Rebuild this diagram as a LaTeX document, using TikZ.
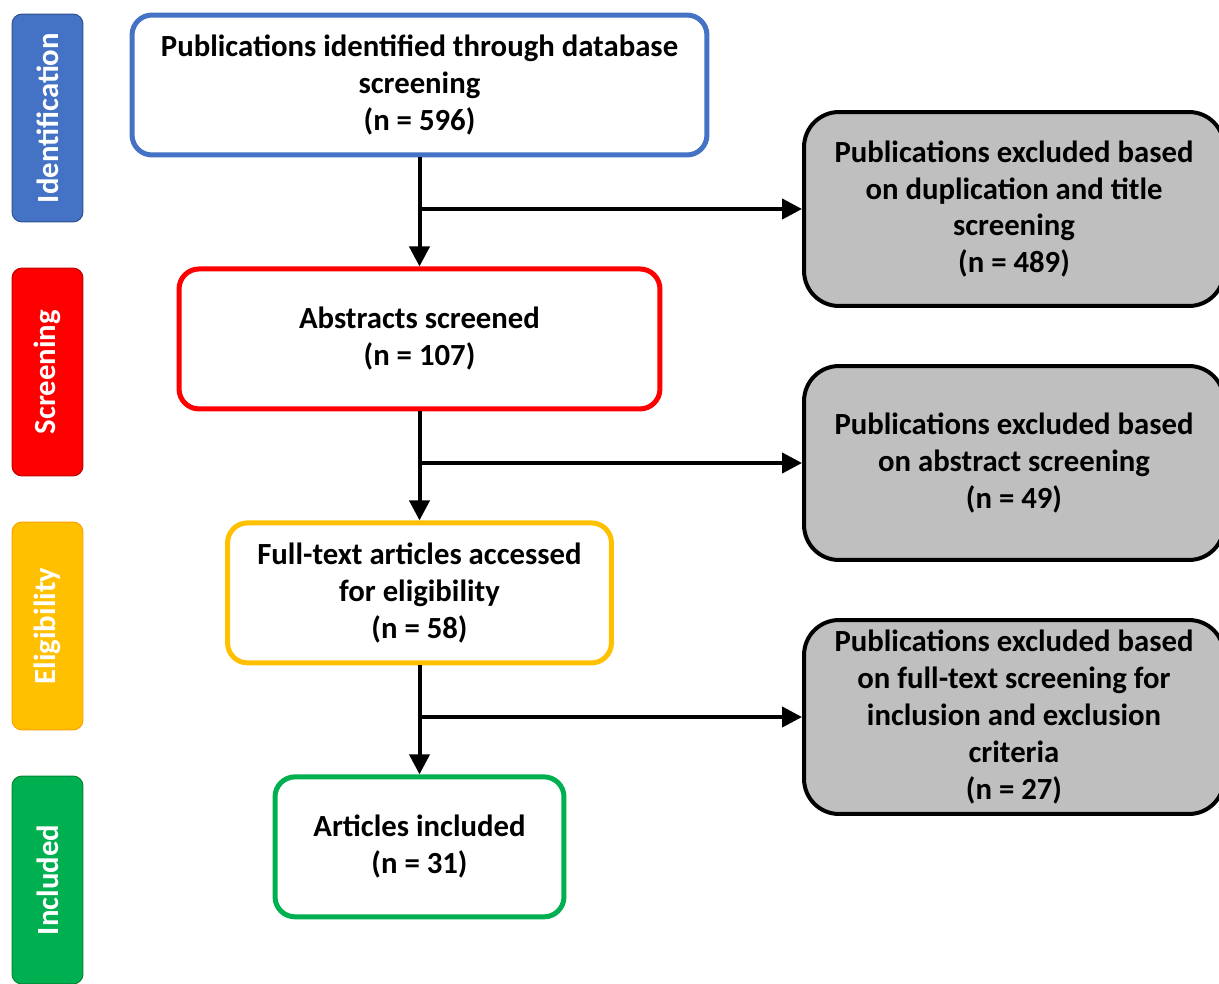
\documentclass[tikz,border=0pt]{standalone}
\usepackage{fontspec}
\setmainfont{Carlito}
\usetikzlibrary{positioning,arrows.meta}
\definecolor{idblue}{HTML}{4472C4}
\definecolor{idblueline}{HTML}{2F528F}
\definecolor{scred}{HTML}{FF0000}
\definecolor{scredline}{HTML}{C00000}
\definecolor{elyellow}{HTML}{FFC000}
\definecolor{elyellowline}{HTML}{FFA000}
\definecolor{ingreen}{HTML}{00B050}
\definecolor{ingreenline}{HTML}{00882F}
\definecolor{exgrey}{HTML}{BFBFBF}
\begin{document}
\begin{tikzpicture}[
        x=0.02cm, y=-0.02cm,
        box/.style={rectangle, draw, line width=0.1cm, rounded corners=0.4cm, fill=white, minimum height=2.8cm, font=\bfseries\fontsize{17.5}{21}\selectfont, align=center},
        exbox/.style={rectangle, draw=black, line width=0.08cm, rounded corners=0.7cm, fill=exgrey, minimum width=8.4cm, minimum height=3.88cm, font=\bfseries\fontsize{17.5}{21}\selectfont, align=center},
        stage/.style={rectangle, draw, line width=0.02cm, rounded corners=0.2cm, rotate=90, minimum width=4.16cm, minimum height=1.42cm, text=white, font=\bfseries\fontsize{17.5}{21}\selectfont},
        arrow/.style={-{Triangle[length=0.4cm, width=0.4cm]}, line width=0.08cm},
      ]
      \useasboundingbox (0,0) rectangle (1219,983);
      % stages
      \node [stage, fill=idblue, draw=idblueline] (sident) at (47.5,118) {Identification};
      \node [stage, fill=scred, draw=scredline] (sscreen) at (47.5,372) {Screening};
      \node [stage, fill=elyellow, draw=elyellowline] (selig) at (47.5,626) {Eligibility};
      \node [stage, fill=ingreen, draw=ingreenline] (sincl) at (47.5,880) {Included};
      % main flow
      \node [box, draw=idblue, minimum width=11.5cm] (ident) at (419.5,85) {Publications identified through database\\screening\\(n = 596)};
      \node [box, draw=scred, minimum width=9.62cm, below=2.18cm of ident] (abstr) {Abstracts screened\\(n = 107)};
      \node [box, draw=elyellow, minimum width=7.68cm, below=2.18cm of abstr] (fulltext) {Full-text articles accessed\\for eligibility\\(n = 58)};
      \node [box, draw=ingreen, minimum width=5.78cm, below=2.18cm of fulltext] (incl) {Articles included\\(n = 31)};
      % exclusions
      \node [exbox] (exdup) at (1014,209) {Publications excluded based\\on duplication and title\\screening\\(n = 489)};
      \node [exbox] (exabs) at (1014,463) {Publications excluded based\\on abstract screening\\(n = 49)};
      \node [exbox] (exfull) at (1014,717) {Publications excluded based\\on full-text screening for\\inclusion and exclusion\\criteria\\(n = 27)};
      \draw [arrow] (ident) -- (abstr);
      \draw [arrow] (abstr) -- (fulltext);
      \draw [arrow] (fulltext) -- (incl);
      \coordinate (jdup) at (ident.south |- exdup.west);
      \coordinate (jabs) at (abstr.south |- exabs.west);
      \coordinate (jfull) at (fulltext.south |- exfull.west);
      \draw [arrow] (jdup) -- (exdup);
      \draw [arrow] (jabs) -- (exabs);
      \draw [arrow] (jfull) -- (exfull);
    \end{tikzpicture}
\end{document}
